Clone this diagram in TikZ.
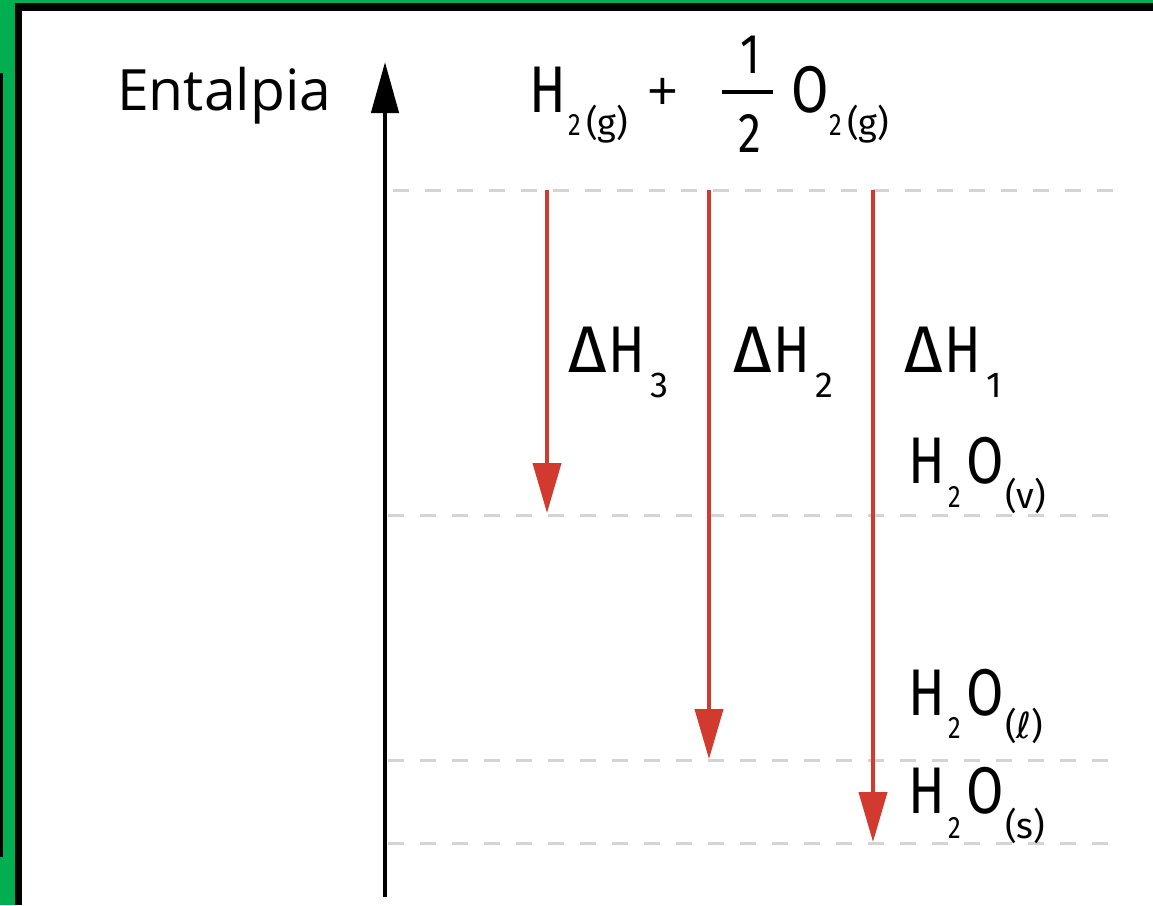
\documentclass[tikz,border=0pt]{standalone}
\usepackage{fontspec}
\setmainfont{Fira Sans}
\newfontfamily\dinfont[FakeStretch=0.82]{Fira Sans}
\newfontfamily\dinwide{Fira Sans}
\newfontfamily\entfont{Open Sans}
\newfontfamily\ellfont{DejaVu Sans}
\usetikzlibrary{arrows.meta}
\definecolor{arrred}{HTML}{D33A2F}
\definecolor{dashgray}{HTML}{D4D4D4}
\definecolor{frgreen}{HTML}{00B050}
\tikzset{
  big/.style={anchor=base west, inner sep=0pt, outer sep=0pt, font=\dinfont\fontsize{66}{66}\selectfont},
  frac/.style={anchor=base, inner sep=0pt, outer sep=0pt, font=\dinfont\fontsize{56}{56}\selectfont},
  subdig/.style={anchor=base west, inner sep=0pt, outer sep=0pt, font=\dinfont\fontsize{31}{31}\selectfont},
  subpar/.style={anchor=base west, inner sep=0pt, outer sep=0pt, font=\dinwide\fontsize{36}{36}\selectfont},
  level/.style={dashgray, line width=3pt, dash pattern=on 16pt off 16pt},
  down/.style={arrred, line width=4pt, -{Triangle[width=28pt,length=50pt]}},
}
\begin{document}
\begin{tikzpicture}[x=1pt,y=-1pt]
\useasboundingbox (0,0) rectangle (1153,905);
% frame
\fill[white] (0,0) rectangle (1153,905);
\fill[frgreen] (0,0) rectangle (1153,3);
\fill[frgreen] (0,0) rectangle (15,905);
\fill[black] (15,3) rectangle (1153,11);
\fill[black] (15,3) rectangle (22,905);
\fill[black] (0,73) rectangle (3,857);
% levels
\coordinate (l0a) at (393,190); \coordinate (l0b) at (1116,190);
\coordinate (l1a) at (388,515); \coordinate (l1b) at (1108,515);
\coordinate (l2a) at (388,760); \coordinate (l2b) at (1108,760);
\coordinate (l3a) at (388,843); \coordinate (l3b) at (1108,843);
\draw[level] (l0a) -- (l0b);
\draw[level] (l1a) -- (l1b);
\draw[level] (l2a) -- (l2b);
\draw[level] (l3a) -- (l3b);
% axis
\coordinate (axb) at (385,897);
\coordinate (axt) at (385,62);
\draw[line width=4.5pt, -{Triangle[width=27pt,length=51pt]}] (axb) -- (axt);
\node[anchor=base west, inner sep=0pt, font=\entfont\fontsize{57}{57}\selectfont] (ent) at (117,110) {Entalpia};
% arrows
\coordinate (a3s) at (547,190); \coordinate (a3e) at (547,513);
\coordinate (a2s) at (709,190); \coordinate (a2e) at (709,759);
\coordinate (a1s) at (873,190); \coordinate (a1e) at (873,842);
\draw[down] (a3s) -- (a3e);
\draw[down] (a2s) -- (a2e);
\draw[down] (a1s) -- (a1e);
% reactants
\node[big] (rh) at (529,112) {H};
\node[subdig] (rh2) at (568,135) {2};
\node[subpar] (rhg) at (586,135) {(g)};
\node[anchor=base west, inner sep=0pt, font=\entfont\fontsize{54}{54}\selectfont] (plus) at (647,110) {+};
\node[frac] (fn) at (750,73) {1};
\node[frac] (fd) at (750,152) {2};
\draw[line width=4pt] (722,92) -- (773,92);
\node[big] (ro) at (791,112) {O};
\node[subdig] (ro2) at (829,135) {2};
\node[subpar] (rog) at (847,135) {(g)};
% delta H labels
\node[big] (dh3) at (568,372) {{\dinwide Δ}\kern2ptH};
\node[subpar] (dh3s) at ([xshift=5pt,yshift=-25pt]dh3.base east) {3};
\node[big] (dh2) at (733,372) {{\dinwide Δ}\kern2ptH};
\node[subpar] (dh2s) at ([xshift=5pt,yshift=-25pt]dh2.base east) {2};
\node[big] (dh1) at (904,372) {{\dinwide Δ}\kern2ptH};
\node[subpar] (dh1s) at ([xshift=5pt,yshift=-25pt]dh1.base east) {1};
% products
\node[big] (vh) at (908,483) {H};
\node[subdig] (vh2) at (948,507) {2};
\node[big] (vo) at (966,483) {O};
\node[subpar] (vs) at (1005,508) {(v)};
\node[big] (lh) at (908,715) {H};
\node[subdig] (lh2) at (948,738) {2};
\node[big] (lo) at (966,715) {O};
\node[subpar] (ls) at (1005,738) {({\ellfont\itshape ℓ})};
\node[big] (sh) at (908,813) {H};
\node[subdig] (sh2) at (948,838) {2};
\node[big] (so) at (966,813) {O};
\node[subpar] (ss) at (1005,838) {(s)};
\end{tikzpicture}
\end{document}
